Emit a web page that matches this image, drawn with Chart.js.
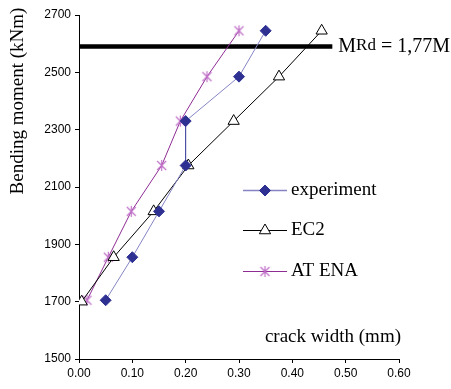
<!DOCTYPE html>
<html>
<head>
<meta charset="utf-8">
<script src="https://cdn.jsdelivr.net/npm/chart.js@4"></script>
<style>
  html, body { margin: 0; padding: 0; background: #fff; }
  #wrap { width: 451px; height: 389px; }
</style>
</head>
<body>
<div id="wrap"><canvas id="chart" width="451" height="389"></canvas></div>
<script>
// values
const expX = [0.05, 0.10, 0.15, 0.20, 0.20, 0.30, 0.35];
const expY = [1705, 1855, 2015, 2175, 2330, 2485, 2645];
const ec2X = [0.005, 0.065, 0.14, 0.205, 0.29, 0.375, 0.455];
const ec2Y = [1700, 1855, 2015, 2175, 2330, 2485, 2645];
const atenaX = [0.015, 0.055, 0.098, 0.155, 0.19, 0.24, 0.30];
const atenaY = [1705, 1855, 2015, 2175, 2330, 2485, 2645];
const mrdX = [0, 0.475];
const mrdY = 2590;

const seriesNames = ['experiment', 'EC2', 'AT ENA'];
const xTicks = [0, 0.1, 0.2, 0.3, 0.4, 0.5, 0.6];
const yTicks = [1500, 1700, 1900, 2100, 2300, 2500, 2700];

const SERIF = '"Liberation Serif", "Times New Roman", serif';
const SANS = '"Liberation Sans", Arial, sans-serif';

const toPts = (xs, ys) => xs.map((x, i) => ({ x: x, y: ys[i] }));

// asterisk marker like the Excel one (X plus vertical bar)
const makeStar = (color) => {
    const c = document.createElement('canvas');
    c.width = 13; c.height = 13;
    const g = c.getContext('2d');
    g.strokeStyle = color;
    g.lineWidth = 1.2;
    g.beginPath();
    g.moveTo(6.5, 1); g.lineTo(6.5, 12);
    g.moveTo(2, 2); g.lineTo(11, 11);
    g.moveTo(11, 2); g.lineTo(2, 11);
    g.stroke();
    return c;
};
const starImg = makeStar('#c070c8');

const NAVY = '#2e3192';
const EXP_LINE = '#8585c4';

const datasets = [
    {
        label: seriesNames[0],
        data: toPts(expX, expY),
        borderColor: EXP_LINE,
        borderWidth: 1,
        pointStyle: 'rectRot',
        pointRadius: 5.5,
        pointBackgroundColor: NAVY,
        pointBorderColor: NAVY,
        pointBorderWidth: 1,
        segment: {
            borderColor: ctx => ctx.p0.parsed.x === ctx.p1.parsed.x ? NAVY : EXP_LINE
        }
    },
    {
        label: seriesNames[1],
        data: toPts(ec2X, ec2Y),
        borderColor: '#000',
        borderWidth: 1,
        pointStyle: 'triangle',
        pointRadius: 6.5,
        pointBackgroundColor: '#fff',
        pointBorderColor: '#000',
        pointBorderWidth: 1
    },
    {
        label: seriesNames[2],
        data: toPts(atenaX, atenaY),
        borderColor: '#8e2c94',
        borderWidth: 1,
        pointStyle: starImg,
        pointRadius: 6
    },
    {
        label: 'MRd',
        data: mrdX.map(x => ({ x: x, y: mrdY })),
        borderColor: '#000',
        borderWidth: 4.5,
        pointRadius: 0
    }
];

// texts: axis titles, legend, MRd label
const annotate = {
    id: 'annotate',
    afterDatasetsDraw(chart) {
        const { ctx, scales } = chart;
        const xs = scales.x, ys = scales.y;
        ctx.save();
        ctx.fillStyle = '#000';

        // y title
        ctx.save();
        ctx.translate(18, 101);
        ctx.rotate(-Math.PI / 2);
        ctx.font = '19px ' + SERIF;
        ctx.textAlign = 'center';
        ctx.textBaseline = 'middle';
        ctx.fillText('Bending moment (kNm)', 0, 0);
        ctx.restore();

        // x title inside plot
        ctx.font = '19px ' + SERIF;
        ctx.textAlign = 'right';
        ctx.textBaseline = 'middle';
        ctx.fillText('crack width (mm)', 401, 337);

        // MRd label
        const my = ys.getPixelForValue(mrdY);
        let lx = xs.getPixelForValue(mrdX[1]) + 6;
        const base = my + 5;
        ctx.textAlign = 'left';
        ctx.textBaseline = 'alphabetic';
        ctx.font = '20px ' + SERIF;
        ctx.fillText('M', lx, base);
        lx += ctx.measureText('M').width;
        ctx.font = '17px ' + SERIF;
        ctx.fillText('Rd', lx, base - 2);
        lx += ctx.measureText('Rd').width;
        ctx.font = '20px ' + SERIF;
        ctx.fillText(' = 1,77M', lx, base);

        // legend
        const rows = [190, 230, 271];
        const x0 = 243, x1 = 287, xm = 265;
        chart.data.datasets.slice(0, 3).forEach((ds, i) => {
            const y = rows[i];
            ctx.strokeStyle = ds.borderColor;
            ctx.lineWidth = i === 0 ? 1.5 : 1;
            ctx.beginPath();
            ctx.moveTo(x0, y + 0.5);
            ctx.lineTo(x1, y + 0.5);
            ctx.stroke();
            if (ds.pointStyle instanceof HTMLCanvasElement) {
                ctx.drawImage(ds.pointStyle, xm - 6.5, y - 6);
            } else {
                ctx.fillStyle = ds.pointBackgroundColor;
                ctx.strokeStyle = ds.pointBorderColor;
                ctx.lineWidth = ds.pointBorderWidth;
                Chart.helpers.drawPoint(ctx, {
                    pointStyle: ds.pointStyle,
                    radius: ds.pointRadius,
                    borderWidth: ds.pointBorderWidth,
                    rotation: 0
                }, xm, y + 0.5);
            }
            ctx.fillStyle = '#000';
            ctx.font = '19px ' + SERIF;
            ctx.textAlign = 'left';
            ctx.textBaseline = 'middle';
            ctx.fillText(ds.label, 291, y);
        });

        ctx.restore();
    }
};

const ctx = document.getElementById('chart').getContext('2d');
new Chart(ctx, {
    type: 'scatter',
    data: { datasets: datasets },
    options: {
        responsive: false,
        animation: false,
        showLine: true,
        layout: { padding: { top: 15, right: 52, left: 0, bottom: 0 } },
        plugins: { legend: { display: false }, tooltip: { enabled: false } },
        scales: {
            x: {
                type: 'linear',
                min: xTicks[0],
                max: xTicks[xTicks.length - 1],
                afterBuildTicks: s => { s.ticks = xTicks.map(v => ({ value: v })); },
                afterFit: s => { s.height = 30; },
                border: { display: true, color: '#000', width: 1 },
                grid: { display: true, drawOnChartArea: false, drawTicks: true, tickLength: 4, color: '#000' },
                ticks: {
                    color: '#000',
                    padding: 3,
                    font: { family: SANS, size: 12 },
                    callback: v => Number(v).toFixed(2)
                }
            },
            y: {
                type: 'linear',
                min: yTicks[0],
                max: yTicks[yTicks.length - 1],
                afterBuildTicks: s => { s.ticks = yTicks.map(v => ({ value: v })); },
                afterFit: s => { s.width = 79; },
                border: { display: true, color: '#000', width: 1 },
                grid: { display: true, drawOnChartArea: false, drawTicks: true, tickLength: 4, color: '#000' },
                ticks: {
                    color: '#000',
                    padding: 4,
                    font: { family: SANS, size: 12 },
                    callback: v => String(v)
                }
            }
        }
    },
    plugins: [annotate]
});
</script>
</body>
</html>
